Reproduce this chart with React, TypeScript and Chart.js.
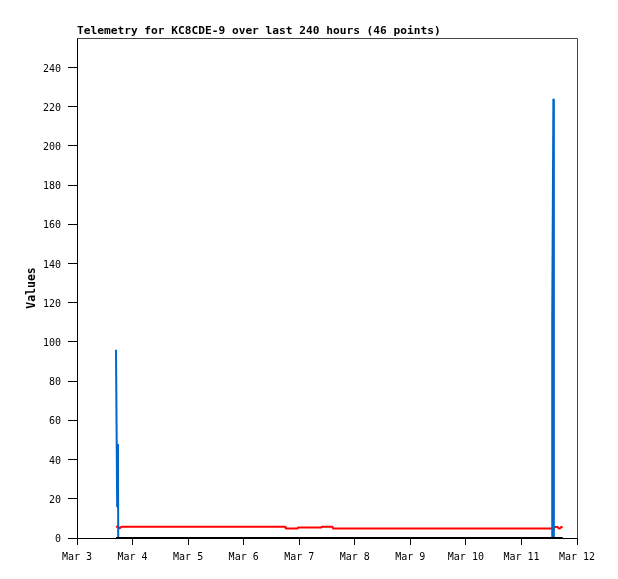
import React, { useEffect, useRef } from "react";
import { Chart, registerables } from "chart.js";

Chart.register(...registerables);

const TITLE = "Telemetry for KC8CDE-9 over last 240 hours (46 points)";
const Y_TITLE = "Values";

const X_MAX = 216;
const Y_MAX = 255;
const X_TICK_HOURS = [0, 24, 48, 72, 96, 120, 144, 168, 192, 216];
const X_TICK_LABELS = ["Mar 3", "Mar 4", "Mar 5", "Mar 6", "Mar 7", "Mar 8", "Mar 9", "Mar 10", "Mar 11", "Mar 12"];
const Y_TICKS = [0, 20, 40, 60, 80, 100, 120, 140, 160, 180, 200, 220, 240];

// hours since Mar 3 00:00
const HOURS = [
  16.85, 17.25, 17.35, 17.7, 17.8, 18.3, 18.6, 19.2, 27, 35,
  43, 51, 59, 67, 75, 83, 90.0, 90.2, 95.2, 95.4,
  100.5, 105.5, 105.7, 110.4, 110.6, 118, 126, 134, 142, 150,
  158, 166, 174, 182, 190, 198, 205.2, 205.3, 205.8, 206.0,
  206.5, 207.6, 208.1, 208.7, 209.2, 209.8,
];

const BLUE = [
  96, 96, 16, 48, 0, 0, 0, 0, 0, 0,
  0, 0, 0, 0, 0, 0, 0, 0, 0, 0,
  0, 0, 0, 0, 0, 0, 0, 0, 0, 0,
  0, 0, 0, 0, 0, 0, 0, 112, 224, 0,
  0, 0, 0, 0, 0, 0,
];

const RED = [
  5.8, 5.8, 5.8, 5.8, 5.8, 5.0, 5.0, 5.8, 5.8, 5.8,
  5.8, 5.8, 5.8, 5.8, 5.8, 5.8, 5.8, 4.8, 4.8, 5.3,
  5.3, 5.3, 5.8, 5.8, 4.8, 4.8, 4.8, 4.8, 4.8, 4.8,
  4.8, 4.8, 4.8, 4.8, 4.8, 4.8, 4.8, 4.8, 4.8, 5.6,
  5.6, 5.6, 4.9, 4.9, 5.6, 5.6,
];

const BLACK = [
  0, 0, 0, 0, 0, 0, 0, 0, 0, 0,
  0, 0, 0, 0, 0, 0, 0, 0, 0, 0,
  0, 0, 0, 0, 0, 0, 0, 0, 0, 0,
  0, 0, 0, 0, 0, 0, 0, 0, 0, 0,
  0, 0, 0, 0, 0, 0,
];

const MONO = '"DejaVu Sans Mono", monospace';

const framePlugin = {
  id: "frameAndTitle",
  beforeDatasetsDraw(chart: any) {
    const { ctx } = chart;
    const { left, top, right, bottom } = chart.chartArea;
    ctx.save();
    ctx.strokeStyle = "#444444";
    ctx.lineWidth = 1;
    ctx.beginPath();
    ctx.moveTo(left, top + 0.5);
    ctx.lineTo(right + 0.5, top + 0.5);
    ctx.lineTo(right + 0.5, bottom);
    ctx.stroke();
    ctx.restore();
  },
  afterDraw(chart: any) {
    const { ctx } = chart;
    const { left } = chart.chartArea;
    ctx.save();
    ctx.fillStyle = "#000000";
    ctx.font = `bold 11.2px ${MONO}`;
    ctx.textAlign = "left";
    ctx.textBaseline = "alphabetic";
    ctx.fillText(TITLE, left, 34);
    ctx.restore();
  },
};

function series(values: number[]) {
  return HOURS.map((h, i) => ({ x: h, y: values[i] }));
}

export default function App() {
  const ref = useRef<HTMLCanvasElement | null>(null);

  useEffect(() => {
    if (!ref.current) return;
    const tickFont = { family: MONO, size: 10 };
    const lineCommon = { borderWidth: 2, pointRadius: 0, borderJoinStyle: "bevel" as const, clip: false as any };
    const chart = new Chart(ref.current, {
      type: "line",
      data: {
        datasets: [
          { label: "zero", data: series(BLACK), borderColor: "#000000", ...lineCommon },
          { label: "blue", data: series(BLUE), borderColor: "#0066cc", ...lineCommon },
          { label: "red", data: series(RED), borderColor: "#ff0000", ...lineCommon },
        ],
      },
      options: {
        animation: false,
        responsive: false,
        devicePixelRatio: 1,
        layout: { padding: { left: 0, top: 38, right: 41, bottom: 0 } },
        elements: { line: { tension: 0 } },
        plugins: { legend: { display: false }, tooltip: { enabled: false }, title: { display: false } },
        scales: {
          x: {
            type: "linear",
            min: 0,
            max: X_MAX,
            afterBuildTicks: (s: any) => {
              s.ticks = X_TICK_HOURS.map((v) => ({ value: v }));
            },
            afterFit: (s: any) => {
              s.height = 41;
            },
            ticks: {
              autoSkip: false,
              maxRotation: 0,
              padding: 6,
              color: "#000000",
              font: tickFont,
              callback: (v: any) => X_TICK_LABELS[X_TICK_HOURS.indexOf(Number(v))],
            },
            grid: { drawOnChartArea: false, drawTicks: true, tickLength: 7, color: "#000000", tickColor: "#000000" },
            border: { display: true, color: "#000000", width: 1 },
          },
          y: {
            type: "linear",
            min: 0,
            max: Y_MAX,
            afterBuildTicks: (s: any) => {
              s.ticks = Y_TICKS.map((v) => ({ value: v }));
            },
            afterFit: (s: any) => {
              s.width = 77;
            },
            ticks: {
              padding: 7,
              labelOffset: 1.5,
              color: "#000000",
              font: tickFont,
              callback: (v: any) => String(v),
            },
            grid: { drawOnChartArea: false, drawTicks: true, tickLength: 9, color: "#000000", tickColor: "#000000" },
            border: { display: true, color: "#000000", width: 1 },
            title: {
              display: true,
              text: Y_TITLE,
              color: "#000000",
              font: { family: MONO, size: 11.5, weight: "bold" },
              padding: { top: 25, bottom: 0 },
            },
          },
        },
      },
      plugins: [framePlugin],
    });
    return () => chart.destroy();
  }, []);

  return (
    <div style={{ position: "fixed", left: 0, top: 0, width: 618, height: 579, background: "#ffffff" }}>
      <canvas ref={ref} width={618} height={579} style={{ display: "block", width: 618, height: 579 }} />
    </div>
  );
}
